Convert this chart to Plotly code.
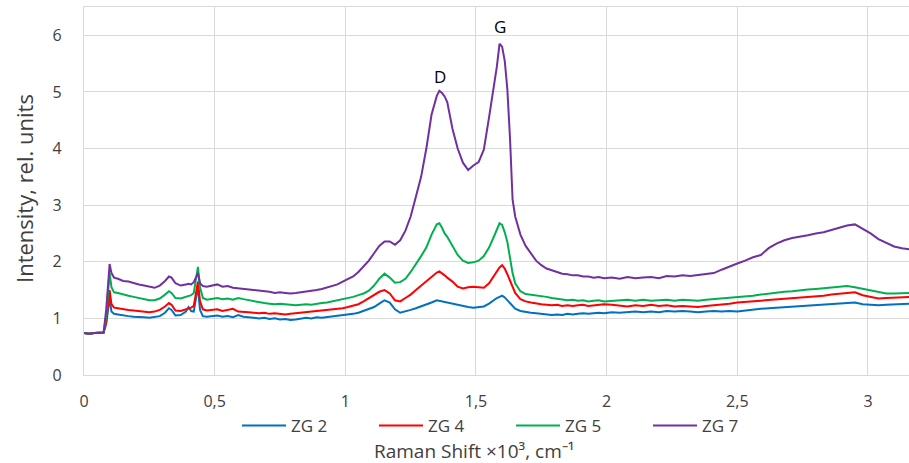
import plotly.graph_objects as go

# Raman shift (x10^3 cm-1)
shift = [
    0, 0.02, 0.04, 0.06, 0.075, 0.085, 0.092, 0.098, 0.105, 0.115,
    0.13, 0.15, 0.17, 0.19, 0.21, 0.23, 0.25, 0.27, 0.29, 0.31,
    0.325, 0.335, 0.35, 0.37, 0.39, 0.40, 0.41, 0.42, 0.428, 0.436,
    0.444, 0.455, 0.47, 0.49, 0.51, 0.53, 0.55, 0.57, 0.59, 0.61,
    0.63, 0.65, 0.67, 0.69, 0.71, 0.73, 0.75, 0.77, 0.79, 0.81,
    0.83, 0.85, 0.87, 0.89, 0.91, 0.93, 0.95, 0.97, 0.99, 1.01,
    1.03, 1.05, 1.07, 1.09, 1.11, 1.13, 1.15, 1.17, 1.19, 1.21,
    1.23, 1.25, 1.27, 1.29, 1.31, 1.33, 1.35, 1.36, 1.37, 1.38,
    1.39, 1.41, 1.43, 1.45, 1.47, 1.49, 1.51, 1.53, 1.55, 1.57,
    1.58, 1.59, 1.60, 1.61, 1.62, 1.63, 1.64, 1.65, 1.67, 1.69,
    1.71, 1.73, 1.75, 1.77, 1.79, 1.81, 1.83, 1.85, 1.87, 1.89,
    1.91, 1.93, 1.95, 1.97, 1.99, 2.02, 2.05, 2.08, 2.11, 2.14,
    2.17, 2.20, 2.23, 2.26, 2.29, 2.32, 2.35, 2.38, 2.41, 2.44,
    2.47, 2.50, 2.53, 2.56, 2.59, 2.62, 2.65, 2.68, 2.71, 2.74,
    2.77, 2.80, 2.83, 2.86, 2.89, 2.92, 2.95, 2.98, 3.01, 3.04,
    3.07, 3.10, 3.13, 3.16,
]

zg2 = [
    0.74, 0.73, 0.74, 0.74, 0.75, 0.90, 1.20, 1.36, 1.12, 1.08,
    1.07, 1.05, 1.04, 1.03, 1.03, 1.02, 1.01, 1.02, 1.04, 1.10,
    1.18, 1.15, 1.05, 1.06, 1.12, 1.20, 1.13, 1.12, 1.35, 1.56,
    1.15, 1.04, 1.03, 1.04, 1.05, 1.03, 1.04, 1.02, 1.06, 1.03,
    1.02, 1.01, 1.00, 1.01, 0.99, 1.00, 0.98, 0.99, 0.97, 0.98,
    1.00, 1.01, 1.00, 1.02, 1.01, 1.02, 1.03, 1.04, 1.05, 1.06,
    1.08, 1.10, 1.13, 1.16, 1.20, 1.26, 1.32, 1.28, 1.16, 1.10,
    1.12, 1.15, 1.18, 1.21, 1.25, 1.28, 1.32, 1.31, 1.30, 1.29,
    1.28, 1.25, 1.23, 1.21, 1.20, 1.19, 1.20, 1.21, 1.26, 1.33,
    1.36, 1.38, 1.40, 1.37, 1.32, 1.27, 1.21, 1.17, 1.13, 1.11,
    1.10, 1.09, 1.08, 1.07, 1.06, 1.07, 1.06, 1.08, 1.07, 1.08,
    1.09, 1.08, 1.09, 1.10, 1.09, 1.11, 1.10, 1.11, 1.12, 1.11,
    1.12, 1.11, 1.13, 1.12, 1.13, 1.12, 1.11, 1.12, 1.13, 1.12,
    1.13, 1.12, 1.14, 1.15, 1.17, 1.18, 1.19, 1.20, 1.21, 1.22,
    1.23, 1.24, 1.25, 1.26, 1.27, 1.28, 1.28, 1.25, 1.24, 1.23,
    1.24, 1.25, 1.26, 1.26,
]

zg4 = [
    0.74, 0.73, 0.74, 0.74, 0.75, 0.95, 1.30, 1.50, 1.25, 1.19,
    1.18, 1.16, 1.15, 1.14, 1.13, 1.12, 1.11, 1.12, 1.15, 1.21,
    1.27, 1.24, 1.14, 1.13, 1.16, 1.18, 1.19, 1.22, 1.45, 1.65,
    1.30, 1.16, 1.14, 1.15, 1.16, 1.13, 1.15, 1.17, 1.12, 1.12,
    1.11, 1.10, 1.09, 1.10, 1.08, 1.09, 1.08, 1.07, 1.08, 1.09,
    1.10, 1.11, 1.12, 1.12, 1.13, 1.14, 1.15, 1.16, 1.18, 1.20,
    1.22, 1.25, 1.30, 1.36, 1.42, 1.47, 1.50, 1.44, 1.32, 1.30,
    1.36, 1.42, 1.50, 1.58, 1.66, 1.74, 1.81, 1.83, 1.80, 1.76,
    1.72, 1.65, 1.56, 1.53, 1.55, 1.56, 1.55, 1.54, 1.62, 1.76,
    1.82, 1.90, 1.94, 1.88, 1.78, 1.66, 1.56, 1.45, 1.34, 1.30,
    1.28, 1.26, 1.25, 1.24, 1.23, 1.24, 1.22, 1.23, 1.22, 1.23,
    1.24, 1.22, 1.23, 1.24, 1.25, 1.24, 1.23, 1.21, 1.23, 1.22,
    1.24, 1.22, 1.23, 1.21, 1.22, 1.21, 1.20, 1.22, 1.23, 1.25,
    1.26, 1.28, 1.29, 1.30, 1.31, 1.32, 1.33, 1.34, 1.36, 1.37,
    1.38, 1.39, 1.40, 1.42, 1.43, 1.45, 1.46, 1.41, 1.38, 1.35,
    1.36, 1.37, 1.38, 1.38,
]

zg5 = [
    0.74, 0.73, 0.74, 0.74, 0.75, 1.05, 1.55, 1.80, 1.55, 1.46,
    1.45, 1.42, 1.40, 1.38, 1.36, 1.34, 1.32, 1.32, 1.35, 1.42,
    1.48, 1.45, 1.36, 1.35, 1.38, 1.40, 1.41, 1.45, 1.70, 1.91,
    1.55, 1.36, 1.33, 1.35, 1.36, 1.34, 1.35, 1.33, 1.36, 1.34,
    1.32, 1.30, 1.28, 1.27, 1.26, 1.25, 1.26, 1.25, 1.24, 1.23,
    1.24, 1.25, 1.24, 1.26, 1.27, 1.28, 1.30, 1.31, 1.34, 1.36,
    1.38, 1.41, 1.44, 1.49, 1.58, 1.70, 1.79, 1.72, 1.63, 1.64,
    1.70, 1.82, 1.95, 2.10, 2.25, 2.48, 2.66, 2.68, 2.60, 2.50,
    2.44, 2.28, 2.12, 2.02, 1.98, 1.99, 2.02, 2.10, 2.25, 2.46,
    2.58, 2.68, 2.65, 2.52, 2.35, 2.05, 1.80, 1.62, 1.48, 1.43,
    1.42, 1.40, 1.39, 1.38, 1.36, 1.35, 1.33, 1.32, 1.33, 1.31,
    1.32, 1.30, 1.31, 1.32, 1.30, 1.31, 1.32, 1.33, 1.31, 1.33,
    1.31, 1.32, 1.33, 1.31, 1.33, 1.32, 1.31, 1.33, 1.34, 1.35,
    1.36, 1.37, 1.38, 1.40, 1.42, 1.44, 1.46, 1.47, 1.48, 1.50,
    1.51, 1.52, 1.53, 1.54, 1.55, 1.57, 1.55, 1.52, 1.49, 1.46,
    1.44, 1.44, 1.45, 1.45,
]

zg7 = [
    0.74, 0.73, 0.74, 0.74, 0.75, 1.15, 1.70, 1.96, 1.80, 1.72,
    1.70, 1.66, 1.65, 1.62, 1.60, 1.58, 1.56, 1.54, 1.58, 1.66,
    1.74, 1.72, 1.62, 1.58, 1.60, 1.61, 1.60, 1.64, 1.72, 1.80,
    1.62, 1.57, 1.56, 1.58, 1.60, 1.56, 1.57, 1.54, 1.53, 1.52,
    1.51, 1.50, 1.49, 1.49, 1.47, 1.45, 1.46, 1.45, 1.44, 1.45,
    1.46, 1.47, 1.48, 1.50, 1.52, 1.55, 1.58, 1.60, 1.65, 1.69,
    1.74, 1.82, 1.92, 2.02, 2.15, 2.28, 2.36, 2.36, 2.30, 2.38,
    2.55, 2.80, 3.15, 3.50, 4.00, 4.60, 4.93, 5.02, 4.98, 4.92,
    4.82, 4.35, 4.00, 3.75, 3.62, 3.70, 3.76, 3.98, 4.55, 5.15,
    5.45, 5.85, 5.80, 5.55, 5.05, 4.20, 3.10, 2.80, 2.48, 2.28,
    2.14, 2.02, 1.94, 1.88, 1.85, 1.82, 1.79, 1.78, 1.76, 1.76,
    1.74, 1.74, 1.72, 1.73, 1.71, 1.72, 1.70, 1.73, 1.71, 1.72,
    1.73, 1.71, 1.75, 1.74, 1.76, 1.75, 1.77, 1.78, 1.80, 1.86,
    1.92, 1.97, 2.02, 2.08, 2.12, 2.24, 2.32, 2.38, 2.42, 2.44,
    2.47, 2.50, 2.52, 2.56, 2.60, 2.64, 2.66, 2.58, 2.50, 2.40,
    2.33, 2.27, 2.24, 2.22,
]

series_names = ["ZG 2", "ZG 4", "ZG 5", "ZG 7"]
series_values = [zg2, zg4, zg5, zg7]
series_colors = ["#0070C0", "#FF0000", "#00B050", "#7030A0"]

x_tickvals = [0, 0.5, 1, 1.5, 2, 2.5, 3]
x_ticktext = ["0", "0,5", "1", "1,5", "2", "2,5", "3"]
y_tickvals = [0, 1, 2, 3, 4, 5, 6]

peak_labels = ["D", "G"]
peak_x = [1.362, 1.592]
peak_y = [5.27, 6.15]

x_title = "Raman Shift ×10³, cm⁻¹"
y_title = "Intensity, rel. units"

FONT = "Open Sans"
GRID = "#d9d9d9"
TXT = "#404040"

fig = go.Figure()
for name, vals, col in zip(series_names, series_values, series_colors):
    assert len(vals) == len(shift), name
    fig.add_trace(go.Scatter(x=shift, y=vals, mode="lines", name=name,
                             line=dict(color=col, width=2)))

for t, px, py in zip(peak_labels, peak_x, peak_y):
    fig.add_annotation(x=px, y=py, text=t, showarrow=False,
                       font=dict(family=FONT, size=17, color="#000000"))

# axis titles placed as paper annotations (plot area: x 84..909 px, y 7..375 px)
fig.add_annotation(xref="paper", x=(474 - 84) / 825, yref="paper", y=(375 - 451) / 368,
                   text=x_title, showarrow=False, xanchor="center", yanchor="middle",
                   font=dict(family=FONT, size=19, color=TXT))
fig.add_annotation(xref="paper", x=(24 - 84) / 825, yref="paper", y=(375 - 189) / 368,
                   text=y_title, showarrow=False, textangle=-90,
                   xanchor="center", yanchor="middle",
                   font=dict(family=FONT, size=22, color=TXT))

fig.update_layout(
    width=909, height=463,
    margin=dict(l=84, r=0, t=7, b=88, autoexpand=False),
    paper_bgcolor="white", plot_bgcolor="white",
    font=dict(family=FONT, size=14, color=TXT),
    showlegend=True,
    legend=dict(orientation="h", x=237 / 909, xanchor="left", xref="container",
                y=37 / 463, yanchor="middle", yref="container",
                font=dict(family=FONT, size=17, color=TXT),
                itemwidth=44,
                entrywidth=78, entrywidthmode="pixels",
                bgcolor="rgba(0,0,0,0)"),
)
fig.update_xaxes(range=[0, 3.157], tickvals=x_tickvals, ticktext=x_ticktext,
                 showgrid=True, gridcolor=GRID, gridwidth=1.3,
                 showline=True, linecolor=GRID, linewidth=1.3, mirror=True,
                 zeroline=False, ticks="", ticklabelstandoff=12, automargin=False,
                 tickfont=dict(family=FONT, size=16, color=TXT))
fig.update_yaxes(range=[0, 6.5], tickvals=y_tickvals,
                 showgrid=True, gridcolor=GRID, gridwidth=1.3,
                 showline=True, linecolor=GRID, linewidth=1.3, mirror=True,
                 zeroline=False, ticks="", ticklabelstandoff=18, automargin=False,
                 tickfont=dict(family=FONT, size=16, color=TXT))

fig.write_html("out.html", config={"displayModeBar": False},
               post_script="document.body.style.margin='0';document.body.style.overflow='hidden';")
